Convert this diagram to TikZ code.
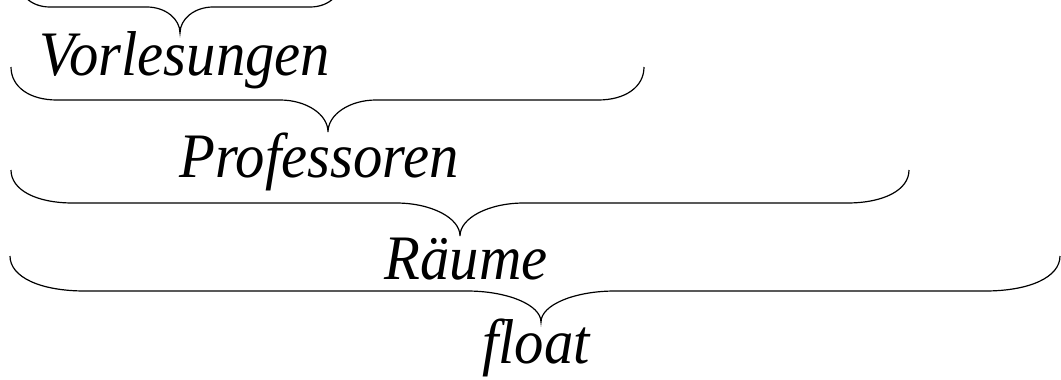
\documentclass[tikz,border=0pt]{standalone}
\usepackage{graphicx}
\usepackage{fontspec}
\setmainfont{Liberation Serif}
\newcommand\mybrace[8]{%
  \draw[bracestyle] (#1,#4) .. controls (#1,{#4+0.6*(#5-#4)}) and ({#1+0.4*#7},#5) .. ({#1+#7},#5)
   -- ({#3-#8},#5) .. controls ({#3-0.45*#8},#5) and (#3,{#5+0.45*(#6-#5)}) .. (#3,#6)
   .. controls (#3,{#5+0.45*(#6-#5)}) and ({#3+0.45*#8},#5) .. ({#3+#8},#5)
   -- ({#2-#7},#5) .. controls ({#2-0.4*#7},#5) and (#2,{#4+0.6*(#5-#4)}) .. (#2,#4);}
\newcommand\tallify[1]{\scalebox{1}[1.08]{#1}}
\begin{document}
\begin{tikzpicture}[x=0.75pt,y=-0.75pt,
  bracestyle/.style={draw=black,line width=0.9pt},
  lbl/.style={anchor=base,inner sep=0pt,font=\fontsize{44}{52}\selectfont\itshape}]
\useasboundingbox (0,0) rectangle (1061,379);
\clip (0,0) rectangle (1061,379);
\mybrace{17}{343}{180}{-26}{7}{33}{33}{33}
\node[lbl] (vorl) at (185,75) {\tallify{Vorlesungen}};
\mybrace{11}{644}{328}{67}{100}{132}{46}{48}
\node[lbl] (prof) at (319,177) {\tallify{Professoren}};
\mybrace{11}{909}{460}{170}{203}{236}{62}{64}
\node[lbl] (raum) at (466,279) {\tallify{Räume}};
\mybrace{10}{1060}{541}{256}{291}{322}{75}{74}
\node[lbl] (flt) at (536,363) {\tallify{float}};
\end{tikzpicture}
\end{document}
